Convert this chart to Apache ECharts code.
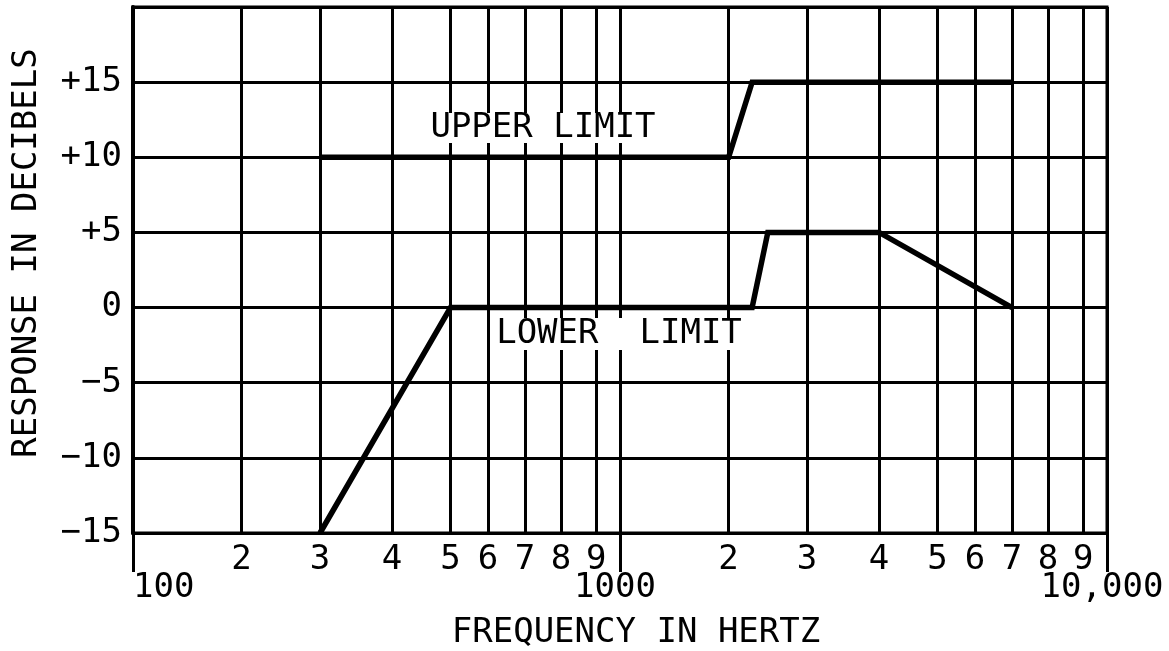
<!DOCTYPE html>
<html>
<head>
<meta charset="utf-8">
<script src="https://cdn.jsdelivr.net/npm/echarts@6/dist/echarts.min.js"></script>
<style>
  html, body { margin: 0; padding: 0; background: #fff; }
  #chart { width: 1169px; height: 651px; }
</style>
</head>
<body>
<div id="chart"></div>
<script>
// Response limits: frequency in Hz, response in dB
const UPPER_HZ = [300, 2000, 2300, 7000];
const UPPER_DB = [10, 10, 15, 15];
const LOWER_HZ = [300, 500, 2300, 2500, 4000, 7000];
const LOWER_DB = [-15, 0, 0, 5, 5, 0];

// Axis ruling
const DECADE_LABELS = ['100', '1000', '10,000'];
const MANTISSAS = [1, 2, 3, 4, 5, 6, 7, 8, 9, 10];
const MINOR_LABELS = ['2', '3', '4', '5', '6', '7', '8', '9'];
const DB_MIN = -15, DB_MAX = 20, DB_STEP = 5;
// Where each mantissa line sits within one decade of this chart paper (0..1)
const MANTISSA_STOPS = [0, 0.223, 0.384, 0.532, 0.652, 0.729, 0.805, 0.879, 0.951, 1];

const FONT = '"DejaVu Sans Mono", "Liberation Mono", monospace';
const FONT_SIZE = 34;

// Hz -> position on the frequency axis, in decades above 100 Hz
function freqToAxis(hz) {
  let k = Math.floor(Math.log10(hz / 100) + 1e-9);
  if (k >= DECADE_LABELS.length - 1) return DECADE_LABELS.length - 1;
  const m = hz / (100 * Math.pow(10, k));
  for (let i = 0; i < MANTISSAS.length - 1; i++) {
    if (m >= MANTISSAS[i] - 1e-9 && m <= MANTISSAS[i + 1] + 1e-9) {
      const t = (m - MANTISSAS[i]) / (MANTISSAS[i + 1] - MANTISSAS[i]);
      return k + MANTISSA_STOPS[i] + t * (MANTISSA_STOPS[i + 1] - MANTISSA_STOPS[i]);
    }
  }
  return k;
}

const nDec = DECADE_LABELS.length - 1;
const minorPositions = [];
const minorLabelByKey = {};
for (let k = 0; k < nDec; k++) {
  MANTISSAS.slice(1, -1).forEach((m, j) => {
    const p = freqToAxis(100 * Math.pow(10, k) * m);
    minorPositions.push(p);
    minorLabelByKey[p.toFixed(4)] = MINOR_LABELS[j];
  });
}
const decadePositions = DECADE_LABELS.map((_, i) => i);

const upperData = UPPER_HZ.map((f, i) => [freqToAxis(f), UPPER_DB[i]]);
const lowerData = LOWER_HZ.map((f, i) => [freqToAxis(f), LOWER_DB[i]]);

const chart = echarts.init(document.getElementById('chart'), null, { renderer: 'canvas' });

const lineBlack = { color: '#000', width: 3 };

const option = {
  animation: false,
  backgroundColor: '#fff',
  grid: {
    left: 133, right: 62, top: 7, bottom: 118,
    show: true, borderColor: '#000', borderWidth: 3, containLabel: false
  },
  xAxis: [
    {
      // mantissa rulings 2..9 in every decade, labelled just under the axis
      type: 'value', min: 0, max: nDec, position: 'bottom',
      axisLine: { show: true, onZero: false, lineStyle: lineBlack },
      axisTick: { show: false, customValues: minorPositions },
      splitLine: { show: true, lineStyle: lineBlack },
      axisLabel: {
        customValues: minorPositions,
        margin: 10,
        fontFamily: FONT, fontSize: FONT_SIZE, color: '#000',
        formatter: v => minorLabelByKey[Number(v).toFixed(4)] || ''
      }
    },
    {
      // decade lines, which run on below the axis to their labels
      type: 'value', min: 0, max: nDec, position: 'bottom',
      axisLine: { show: true, onZero: false, lineStyle: lineBlack },
      axisTick: { show: true, inside: false, length: 39, customValues: decadePositions, lineStyle: lineBlack },
      splitLine: { show: true, lineStyle: lineBlack },
      axisLabel: {
        customValues: decadePositions,
        margin: 38,
        padding: [0, 10, 0, 0],
        fontFamily: FONT, fontSize: FONT_SIZE, color: '#000',
        alignMinLabel: 'left',
        formatter: v => DECADE_LABELS[Math.round(v)] || ''
      }
    }
  ],
  yAxis: {
    type: 'value', min: DB_MIN, max: DB_MAX, interval: DB_STEP,
    axisLine: { show: true, lineStyle: { color: '#000', width: 4 } },
    axisTick: { show: false },
    splitLine: { show: true, lineStyle: lineBlack },
    axisLabel: {
      margin: 11,
      padding: [4, 0, 0, 0],
      fontFamily: FONT, fontSize: FONT_SIZE, color: '#000',
      formatter: v => v >= DB_MAX ? '' : (v > 0 ? '+' + v : (v < 0 ? '\u2212' + Math.abs(v) : '0'))
    }
  },
  series: [
    {
      name: 'UPPER LIMIT', type: 'line', xAxisIndex: 0, data: upperData,
      showSymbol: false, symbol: 'none', clip: false,
      lineStyle: { color: '#000', width: 5.5, cap: 'butt', join: 'miter' }, z: 5
    },
    {
      name: 'LOWER LIMIT', type: 'line', xAxisIndex: 0, data: lowerData,
      showSymbol: false, symbol: 'none', clip: false,
      lineStyle: { color: '#000', width: 5.5, cap: 'butt', join: 'miter' }, z: 5
    }
  ],
  graphic: [
    {
      type: 'text', x: 27, y: 253, rotation: Math.PI / 2, z: 10,
      style: { text: 'RESPONSE IN DECIBELS', font: FONT_SIZE + 'px ' + FONT, fill: '#000', align: 'center', verticalAlign: 'middle' }
    },
    {
      type: 'text', x: 636, y: 633, z: 10,
      style: { text: 'FREQUENCY IN HERTZ', font: FONT_SIZE + 'px ' + FONT, fill: '#000', align: 'center', verticalAlign: 'middle' }
    },
    {
      type: 'text', x: 543, y: 128, z: 10,
      style: { text: 'UPPER LIMIT', font: FONT_SIZE + 'px ' + FONT, fill: '#000', align: 'center', verticalAlign: 'middle',
               backgroundColor: '#fff', padding: [1, 2], lineHeight: 28 }
    },
    {
      type: 'text', x: 619, y: 334, z: 10,
      style: { text: 'LOWER  LIMIT', font: FONT_SIZE + 'px ' + FONT, fill: '#000', align: 'center', verticalAlign: 'middle',
               backgroundColor: '#fff', padding: [1, 2], lineHeight: 30 }
    }
  ]
};

chart.setOption(option);
</script>
</body>
</html>
